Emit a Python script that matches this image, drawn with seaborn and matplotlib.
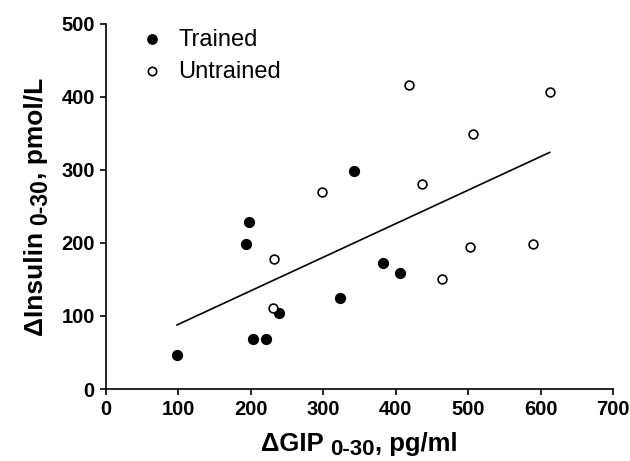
import matplotlib
matplotlib.use("Agg")
import matplotlib.pyplot as plt
import seaborn as sns
import pandas as pd

# datos
trained_gip = [98, 193, 197, 203, 221, 239, 323, 342, 382, 406]
trained_ins = [46, 198, 228, 68, 68, 104, 124, 298, 172, 159]
untrained_gip = [232, 231, 298, 418, 437, 464, 503, 507, 589, 613]
untrained_ins = [178, 111, 269, 416, 280, 150, 194, 349, 198, 407]

x_ticks = [0, 100, 200, 300, 400, 500, 600, 700]
y_ticks = [0, 100, 200, 300, 400, 500]

df = pd.DataFrame({
    "gip": trained_gip + untrained_gip,
    "ins": trained_ins + untrained_ins,
    "grupo": ["Trained"] * len(trained_gip) + ["Untrained"] * len(untrained_gip),
})

sns.set_style("ticks")
plt.rcParams["font.family"] = ["Liberation Sans", "DejaVu Sans"]
plt.rcParams["text.color"] = "black"

W, H = 630, 461
fig = plt.figure(figsize=(W / 100, H / 100), dpi=100)
ax = fig.add_axes([0.168, 0.156, 0.805, 0.793])

# linea de regresion sobre todos los puntos
sns.regplot(data=df, x="gip", y="ins", scatter=False, ci=None, ax=ax,
            line_kws={"color": "black", "lw": 1.2})

tr = df[df["grupo"] == "Trained"]
un = df[df["grupo"] == "Untrained"]
ax.scatter(tr["gip"], tr["ins"], s=50, c="black", edgecolors="black", linewidths=1, label="Trained", zorder=3)
ax.scatter(un["gip"], un["ins"], s=40, c="white", edgecolors="black", linewidths=1.2, label="Untrained", zorder=3)

ax.set_xlim(0, 700)
ax.set_ylim(0, 500)
ax.set_xticks(x_ticks)
ax.set_yticks(y_ticks)
ax.set_xlabel("")
ax.set_ylabel("")
ax.tick_params(axis="both", direction="out", length=4, width=1.2, labelsize=14.5,
               color="black", labelcolor="black", bottom=True, left=True, pad=4)
for lab in ax.get_xticklabels() + ax.get_yticklabels():
    lab.set_fontweight("bold")

sns.despine(ax=ax)
for s in ["left", "bottom"]:
    ax.spines[s].set_color("black")
    ax.spines[s].set_linewidth(1.2)

ax.legend(loc="upper left", bbox_to_anchor=(0.008, 1.044), frameon=False, fontsize=17,
          handlelength=1.8, handletextpad=0.2, labelspacing=0.42, markerscale=0.95)


# etiquetas con subindice "0-30" un poco mas pequeno y bajado
def rich_label(parts, center, base, vertical=False):
    renderer = fig.canvas.get_renderer()
    texts, sizes = [], []
    for s, size, shift in parts:
        t = fig.text(0, 0, s, fontsize=size, fontweight="bold", ha="left", va="baseline",
                     rotation=90 if vertical else 0, rotation_mode="anchor", color="black")
        bb = t.get_window_extent(renderer)
        texts.append((t, shift))
        sizes.append(bb.height if vertical else bb.width)
    pos = center - sum(sizes) / 2
    for (t, shift), w in zip(texts, sizes):
        if vertical:
            t.set_position(((base + shift) / W, pos / H))
        else:
            t.set_position((pos / W, (base - shift) / H))
        pos += w


rich_label([("ΔGIP ", 18.5, 0), ("0-30", 16, 3.5), (", pg/ml", 18.5, 0)],
           center=359, base=461 - 451)
rich_label([("ΔInsulin ", 19, 0), ("0-30", 16.5, 4), (", pmol/L", 19, 0)],
           center=461 - 207, base=43, vertical=True)

fig.savefig("out.png", dpi=100)
